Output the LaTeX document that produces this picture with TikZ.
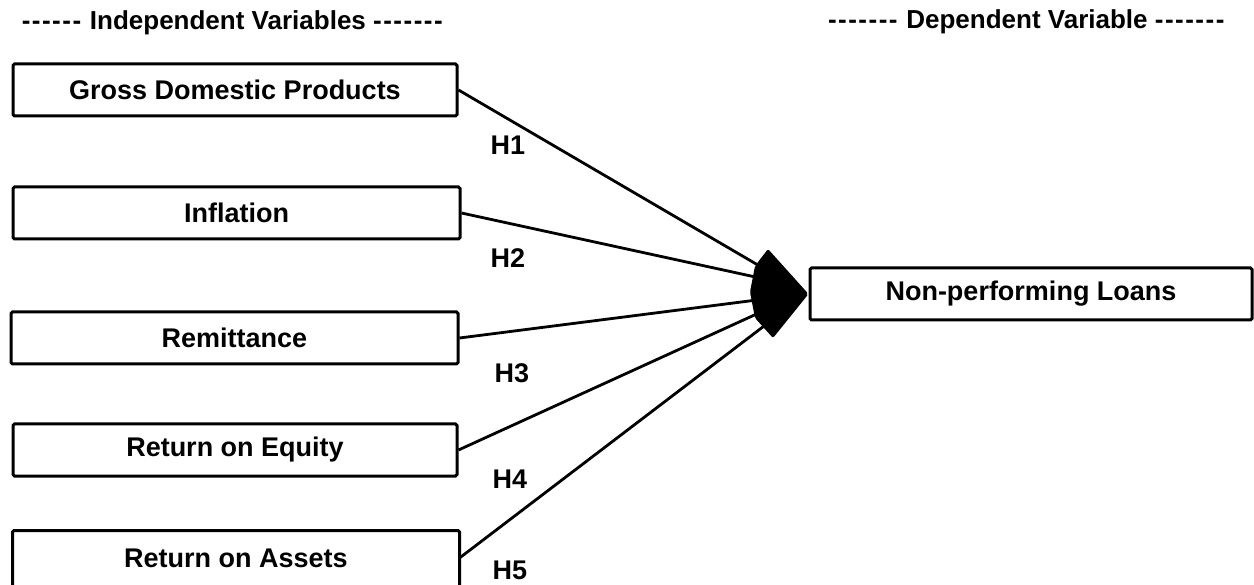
\documentclass[tikz,border=0pt]{standalone}
\usepackage{fontspec}
\setmainfont{Liberation Sans}
\newcommand\hy{-\kern1.5pt\relax}
\begin{document}
\begin{tikzpicture}[x=1pt,y=-1pt,
  varbox/.style={draw=black,line width=3pt,rounded corners=1.5pt,minimum width=444pt,minimum height=52pt,inner sep=0pt,font=\fontsize{27}{30}\selectfont\bfseries},
  hdr/.style={font=\fontsize{26}{30}\selectfont\bfseries,inner sep=0pt},
  hlab/.style={font=\fontsize{27}{30}\selectfont\bfseries,inner sep=0pt},
  link/.style={line width=2.8pt}]
\useasboundingbox (0,0) rectangle (1254,585);
\fill[white] (0,0) rectangle (1254,585);
% headers
\node[hdr] (hind) at (233,23) {\hy\hy\hy\hy\hy\hy\ Independent Variables \hy\hy\hy\hy\hy\hy\hy};
\node[hdr] (hdep) at (1027,22) {\hy\hy\hy\hy\hy\hy\hy\ Dependent Variable \hy\hy\hy\hy\hy\hy\hy};
% boxes
\node[varbox] (gdp) at (235,90) {Gross Domestic Products};
\node[varbox,minimum width=447pt] (inf) at (236.5,213) {Inflation};
\node[varbox,minimum width=447pt] (rem) at (234.5,338) {Remittance};
\node[varbox] (roe) at (235,450) {Return on Equity};
\node[varbox,draw=none] (roa) at (236,558) {Return on Assets};
\draw[line width=3pt,rounded corners=1.5pt] (roa.south west) -- (roa.north west) -- (roa.north east) -- (roa.south east);
\draw[gray,line width=0.8pt,dashed] (roa.south west) -- (roa.south east);
\node[varbox,minimum width=442pt] (npl) at (1031,294) {Non-performing Loans};
% arrowhead end points
\coordinate (e1) at (763,268);
\coordinate (e2) at (760,278);
\coordinate (e3) at (757,300);
\coordinate (e4) at (761,312);
\coordinate (e5) at (768,323);
\draw[link] (gdp.east) -- (e1);
\draw[link] (inf.east) -- (e2);
\draw[link] (rem.east) -- (e3);
\draw[link] (roe.east) -- (e4);
\draw[link] (roa.east) -- (e5);
% arrowhead
\fill[black,rounded corners=2pt] (768,249) -- (npl.west) -- (773,338) -- (755,318) -- (750,292) -- (755,266) -- cycle;
% hypothesis labels
\node[hlab] (h1) at (508,145) {H1};
\node[hlab] (h2) at (508,258) {H2};
\node[hlab] (h3) at (512,373) {H3};
\node[hlab] (h4) at (510,479) {H4};
\node[hlab] (h5) at (510,570) {H5};
\end{tikzpicture}
\end{document}
